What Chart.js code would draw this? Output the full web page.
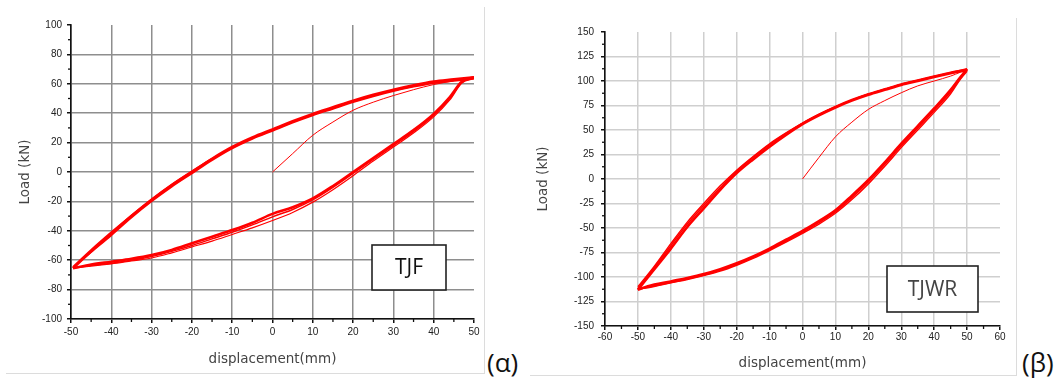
<!DOCTYPE html>
<html>
<head>
<meta charset="utf-8">
<script src="https://cdn.jsdelivr.net/npm/chart.js@4/dist/chart.umd.min.js"></script>
<style>
  body { margin: 0; background: #fff; width: 1062px; height: 387px; position: relative; overflow: hidden; }
  canvas { position: absolute; top: 0; filter: blur(0.4px); }
  #tjf { left: 0; }
  #tjwr { left: 530px; }
  .frame { position: absolute; border-right: 1px solid #dcdcdc; border-bottom: 1px solid #dcdcdc; }
  .tag { position: absolute; font-family: "Open Sans", sans-serif; font-size: 26px; color: #111; }
</style>
</head>
<body>
<div class="frame" style="left:6px; top:7px; width:478px; height:366px;"></div>
<div class="frame" style="left:530px; top:18px; width:486px; height:357px;"></div>
<div class="tag" style="left:487px; top:344px;">(α)</div>
<div class="tag" style="left:1022px; top:344px;">(β)</div>
<canvas id="tjf" width="500" height="387"></canvas>
<canvas id="tjwr" width="490" height="387"></canvas>
<script>
// TJF specimen: initial loading curve
const tjfInitX = [0, 5, 10, 15, 20, 25, 30, 35, 40, 45];
const tjfInitY = [0, 12.5, 25, 34, 42, 47.5, 52, 56, 59.5, 62];
// TJF reloading branch (negative peak -> positive peak), three cycles
const tjfUpX = [-49.5, -45, -40, -35, -30, -25, -20, -15, -10, -5, 0, 5, 10, 15, 20, 25, 30, 35, 40, 45, 50];
const tjfUp1 = [-65.5, -54, -42, -30, -19, -9, 0, 9, 17, 23.5, 29, 34.5, 39.5, 44, 48.5, 52.5, 56, 59, 61.5, 63, 64.5];
const tjfUp2 = [-64.5, -53, -41, -29.5, -18.5, -8.5, 0.5, 9, 16.5, 23, 28.5, 34, 39, 43.5, 48, 52, 55.5, 58.5, 61, 62.5, 64];
const tjfUp3 = [-65, -54.5, -43, -31, -20, -10, -1, 8, 16, 22.5, 28, 33.5, 38.5, 43, 47.5, 51.5, 55, 58, 60.5, 62, 63.5];
// TJF unloading branch (positive peak -> negative peak), three cycles
const tjfLowX = [50, 47, 44, 40, 35, 30, 25, 20, 15, 10, 5, 0, -5, -10, -15, -20, -25, -30, -35, -40, -45, -49.5];
const tjfLow1 = [64.5, 61.5, 51, 39.5, 28.5, 19, 9.5, 0, -9.5, -18, -24, -28.5, -34.5, -39.5, -44, -48.5, -53, -56.5, -59, -61, -63, -65.5];
const tjfLow2 = [64, 61, 50, 38.5, 27.5, 18, 8.5, -1, -10.5, -19, -25.5, -30.5, -36, -41, -45.5, -50, -54, -57.5, -60, -62, -63.5, -65.5];
const tjfLow3 = [63.5, 60.5, 49, 37.5, 26.5, 17, 7.5, -2.5, -12, -20.5, -27.5, -33, -38, -42.5, -47, -51, -55, -58.5, -60.5, -62.5, -64, -65];

// TJWR specimen
const tjwrInitX = [0, 5, 10, 15, 20, 25, 30, 35, 40, 45, 48];
const tjwrInitY = [0, 22, 43, 58, 71, 80, 88, 95, 100, 105, 109];
const tjwrUpX = [-50, -45, -40, -35, -30, -25, -20, -15, -10, -5, 0, 5, 10, 15, 20, 25, 30, 35, 40, 45, 50];
const tjwrUp1 = [-113, -92, -71, -49, -30, -11, 6, 20, 33, 45, 56, 65, 73, 80, 86, 91, 96, 100, 104, 108, 112];
const tjwrUp2 = [-112, -90, -68, -46, -27, -9, 8, 22, 35, 46.5, 57, 66, 74, 81, 87, 92, 97, 101, 105, 109, 112];
const tjwrUp3 = [-110, -89, -66, -44, -25, -7, 9, 23, 36, 47, 57, 66, 73.5, 80.5, 86.5, 91.5, 96.5, 100.5, 104.5, 108, 110];
const tjwrLowX = [50, 48, 45, 40, 35, 30, 25, 20, 15, 10, 5, 0, -5, -10, -15, -20, -25, -30, -35, -40, -47, -50];
const tjwrLow1 = [112, 104, 91, 72, 54, 36, 17, -1, -17, -32, -43, -53, -62, -71, -79, -86, -92, -97, -101, -104.5, -109.5, -113];
const tjwrLow2 = [112, 103, 89, 70, 52, 34, 15, -3, -19, -33.5, -44.5, -54.5, -63.5, -72, -80, -87, -93, -98, -102, -105.5, -110.5, -112.5];
const tjwrLow3 = [110, 102, 87, 68, 50, 32, 13, -5, -21, -35, -46, -55.5, -64.5, -73, -81, -88, -94, -98.5, -102.5, -106, -111, -112];

const RED = 'rgb(255,0,0)';

function pts(xs, ys) {
  return xs.map((x, i) => ({ x: x, y: ys[i] }));
}

function branch(xs, ys, width) {
  return {
    data: pts(xs, ys),
    showLine: true,
    borderColor: RED,
    borderWidth: width,
    pointRadius: 0,
    cubicInterpolationMode: 'monotone',
    fill: false
  };
}

// small ticks half way between the labelled ones
const minorTicks = {
  id: 'minorTicks',
  afterDraw(chart, args, opts) {
    const ctx = chart.ctx;
    ctx.save();
    ctx.strokeStyle = '#111';
    ctx.lineWidth = 1.3;
    const xs = chart.scales.x, ys = chart.scales.y;
    for (let v = xs.min + opts.x; v < xs.max; v += opts.x * 2) {
      const px = xs.getPixelForValue(v);
      ctx.beginPath(); ctx.moveTo(px, ys.bottom); ctx.lineTo(px, ys.bottom + 3); ctx.stroke();
    }
    for (let v = ys.min + opts.y; v < ys.max; v += opts.y * 2) {
      const py = ys.getPixelForValue(v);
      ctx.beginPath(); ctx.moveTo(xs.left, py); ctx.lineTo(xs.left - 3, py); ctx.stroke();
    }
    ctx.restore();
  }
};

// boxed specimen name inside the plot
const nameBox = {
  id: 'nameBox',
  afterDraw(chart, args, opts) {
    const ctx = chart.ctx;
    ctx.save();
    ctx.fillStyle = '#fff';
    ctx.fillRect(opts.x, opts.y, opts.w, opts.h);
    ctx.strokeStyle = '#222';
    ctx.lineWidth = 1.6;
    ctx.strokeRect(opts.x, opts.y, opts.w, opts.h);
    ctx.fillStyle = opts.color;
    ctx.font = '21px "Open Sans", sans-serif';
    ctx.textAlign = 'center';
    ctx.textBaseline = 'middle';
    ctx.fillText(opts.text, opts.x + opts.w / 2, opts.y + opts.h / 2 + 1);
    ctx.restore();
  }
};

function makeChart(id, cfg) {
  const tickFont = { family: '"Liberation Sans", Arial, sans-serif', size: 10 };
  const titleFont = { family: '"DejaVu Sans", sans-serif', size: 13.5 };
  const gridColor = (max) => (c) => (c.tick && c.tick.value === max ? 'rgba(0,0,0,0)' : cfg.grid);
  return new Chart(document.getElementById(id), {
    type: 'scatter',
    data: { datasets: cfg.datasets },
    options: {
      responsive: false,
      animation: false,
      devicePixelRatio: 1,
      layout: { autoPadding: false, padding: { left: 0, top: cfg.top, right: cfg.right, bottom: 0 } },
      plugins: {
        legend: { display: false },
        tooltip: { enabled: false },
        minorTicks: { x: cfg.xStep / 2, y: cfg.yStep / 2 },
        nameBox: cfg.box
      },
      scales: {
        x: {
          type: 'linear',
          min: cfg.xMin, max: cfg.xMax,
          ticks: { stepSize: cfg.xStep, color: '#222', font: tickFont, padding: cfg.xPad, maxRotation: 0 },
          grid: { color: gridColor(cfg.xMax), lineWidth: 1.5, tickColor: '#111', tickLength: 4 },
          border: { color: '#111', width: 1.6 },
          title: { display: true, text: 'displacement(mm)', color: '#444', font: titleFont, padding: { top: 0, bottom: cfg.xTitlePad } },
          afterFit: (s) => { s.height = cfg.xHeight; }
        },
        y: {
          type: 'linear',
          min: cfg.yMin, max: cfg.yMax,
          ticks: { stepSize: cfg.yStep, color: '#222', font: tickFont, padding: cfg.yPad },
          grid: { color: gridColor(cfg.yMax), lineWidth: 1.5, tickColor: '#111', tickLength: 4 },
          border: { color: '#111', width: 1.6 },
          title: { display: true, text: 'Load (kN)', color: '#444', font: titleFont, padding: { top: cfg.yTitlePad, bottom: 0 } },
          afterFit: (s) => { s.width = cfg.yWidth; }
        }
      }
    },
    plugins: [minorTicks, nameBox]
  });
}

makeChart('tjf', {
  xMin: -50, xMax: 50, xStep: 10,
  yMin: -100, yMax: 100, yStep: 20,
  grid: '#8e8e8e',
  top: 25, right: 26, yWidth: 71, xHeight: 68,
  xPad: 3, yPad: 5, xTitlePad: 19, yTitlePad: 17,
  box: { x: 372, y: 245, w: 74, h: 45, text: 'TJF', color: '#111' },
  datasets: [
    branch(tjfLowX, tjfLow3, 1.2),
    branch(tjfLowX, tjfLow2, 1.5),
    branch(tjfLowX, tjfLow1, 2.6),
    branch(tjfUpX, tjfUp3, 1.8),
    branch(tjfUpX, tjfUp2, 1.8),
    branch(tjfUpX, tjfUp1, 2.6),
    branch(tjfInitX, tjfInitY, 1)
  ]
});

makeChart('tjwr', {
  xMin: -60, xMax: 60, xStep: 10,
  yMin: -150, yMax: 150, yStep: 25,
  grid: '#cfcfcf',
  top: 32, right: 20, yWidth: 75, xHeight: 61,
  xPad: 1, yPad: 7, xTitlePad: 15, yTitlePad: 5,
  box: { x: 357, y: 266, w: 91, h: 46, text: 'TJWR', color: '#444' },
  datasets: [
    branch(tjwrLowX, tjwrLow3, 1.4),
    branch(tjwrLowX, tjwrLow2, 1.6),
    branch(tjwrLowX, tjwrLow1, 2.6),
    branch(tjwrUpX, tjwrUp3, 1.4),
    branch(tjwrUpX, tjwrUp2, 1.6),
    branch(tjwrUpX, tjwrUp1, 2.6),
    branch(tjwrInitX, tjwrInitY, 1)
  ]
});
</script>
</body>
</html>
